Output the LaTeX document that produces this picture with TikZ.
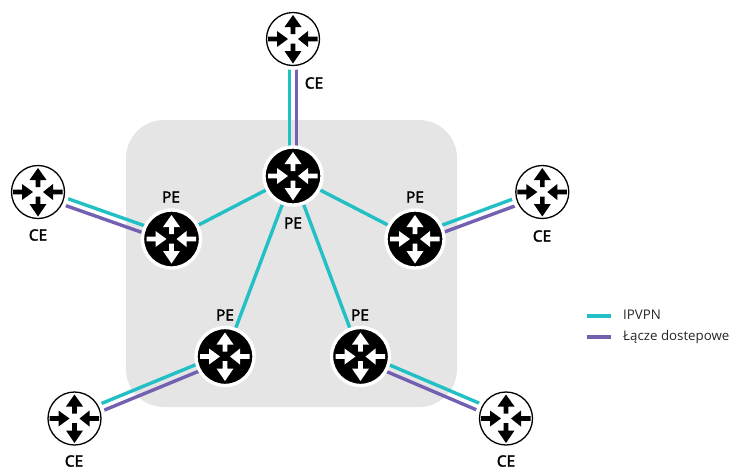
\documentclass[tikz,border=0pt]{standalone}
\usepackage{fontspec}
\setmainfont{Open Sans}
\newfontfamily\labelfont[FakeBold=2.2]{Open Sans}
\usetikzlibrary{calc,backgrounds}
\definecolor{ipvpn}{HTML}{22BFC4}
\definecolor{access}{HTML}{7460B0}
\definecolor{cloud}{HTML}{E5E5E5}
\newcommand{\routerarrows}[1]{%
  \begin{scope}[shift={(path picture bounding box.center)},x=1pt,y=1pt]
    \fill[#1] (-2.3,5) -- (-2.3,12) -- (-8.5,12) -- (0,24) -- (8.5,12) -- (2.3,12) -- (2.3,5) -- cycle;
    \fill[#1] (-2.3,-4.5) -- (-2.3,-12) -- (-8.5,-12) -- (0,-24.5) -- (8.5,-12) -- (2.3,-12) -- (2.3,-4.5) -- cycle;
    \fill[#1] (-25,-2.3) -- (-16,-2.3) -- (-16,-8) -- (-5,0) -- (-16,8) -- (-16,2.3) -- (-25,2.3) -- cycle;
    \fill[#1] (24.5,-2.3) -- (15,-2.3) -- (15,-8) -- (5,0) -- (15,8) -- (15,2.3) -- (24.5,2.3) -- cycle;
  \end{scope}}
\tikzset{
  cerouter/.style={circle,draw=black,fill=white,line width=1.3pt,inner sep=0pt,minimum size=53pt,
    preaction={draw=white,line width=9pt},path picture={\routerarrows{black}}},
  perouter/.style={circle,draw=white,fill=black,line width=3.4pt,inner sep=0pt,minimum size=58pt,
    path picture={\routerarrows{white}}},
  lbl/.style={font=\labelfont\fontsize{15.5}{18}\selectfont,text=black,inner sep=0pt},
  legendtext/.style={font=\fontsize{13.3}{15}\selectfont,text=black!85,inner sep=0pt,anchor=west},
  ipvpnline/.style={draw=ipvpn,line width=3.4pt},
  accessline/.style={draw=access,line width=3.4pt},
  cloudbox/.style={fill=cloud,rounded corners=38pt,minimum width=331pt,minimum height=287pt,inner sep=0pt}
}
\newcommand{\duallink}[2]{%
  \draw[ipvpnline] ($(#1)!3.6pt!-90:(#2)$) -- ($(#2)!3.6pt!90:(#1)$);
  \draw[accessline] ($(#1)!3.6pt!90:(#2)$) -- ($(#2)!3.6pt!-90:(#1)$);}
\begin{document}
\begin{tikzpicture}[x=1pt,y=-1pt]
\useasboundingbox (0,0) rectangle (733,469);
\node[perouter] (pet) at (293,176) {};
\node[perouter] (pel) at (171.5,239) {};
\node[perouter] (per) at (415,239) {};
\node[perouter] (pebl) at (225,356.5) {};
\node[perouter] (pebr) at (360.5,356.5) {};
\node[cerouter] (cet) at (293,39) {};
\node[cerouter] (cel) at (38,192) {};
\node[cerouter] (cer) at (542.3,192) {};
\node[cerouter] (cebl) at (74.5,418.5) {};
\node[cerouter] (cebr) at (506,418.5) {};
\begin{pgfonlayer}{background}
  \node[cloudbox] (cloud) at (291.5,263.5) {};
  \duallink{cet}{pet}
  \duallink{pel}{cel}
  \duallink{cer}{per}
  \duallink{pebl}{cebl}
  \duallink{cebr}{pebr}
  \draw[ipvpnline] (pet) -- (pel);
  \draw[ipvpnline] (pet) -- (per);
  \draw[ipvpnline] (pet) -- (pebl);
  \draw[ipvpnline] (pet) -- (pebr);
\end{pgfonlayer}
\node[lbl] (lcet) at (314,83) {CE};
\node[lbl] (lpet) at (293,223) {PE};
\node[lbl] (lpel) at (171,197) {PE};
\node[lbl] (lcel) at (38,235) {CE};
\node[lbl] (lper) at (415,197) {PE};
\node[lbl] (lcer) at (542,236) {CE};
\node[lbl] (lpebl) at (225,315) {PE};
\node[lbl] (lcebl) at (74,461) {CE};
\node[lbl] (lpebr) at (360,315) {PE};
\node[lbl] (lcebr) at (506,461) {CE};
\coordinate (a1) at (587,316);
\coordinate (a2) at (611,316);
\coordinate (b1) at (587,337);
\coordinate (b2) at (611,337);
\draw[ipvpnline] (a1) -- (a2);
\draw[accessline] (b1) -- (b2);
\node[legendtext] (tipvpn) at (623,315) {IPVPN};
\node[legendtext] (taccess) at (623,337) {Łącze dostepowe};
\end{tikzpicture}
\end{document}
